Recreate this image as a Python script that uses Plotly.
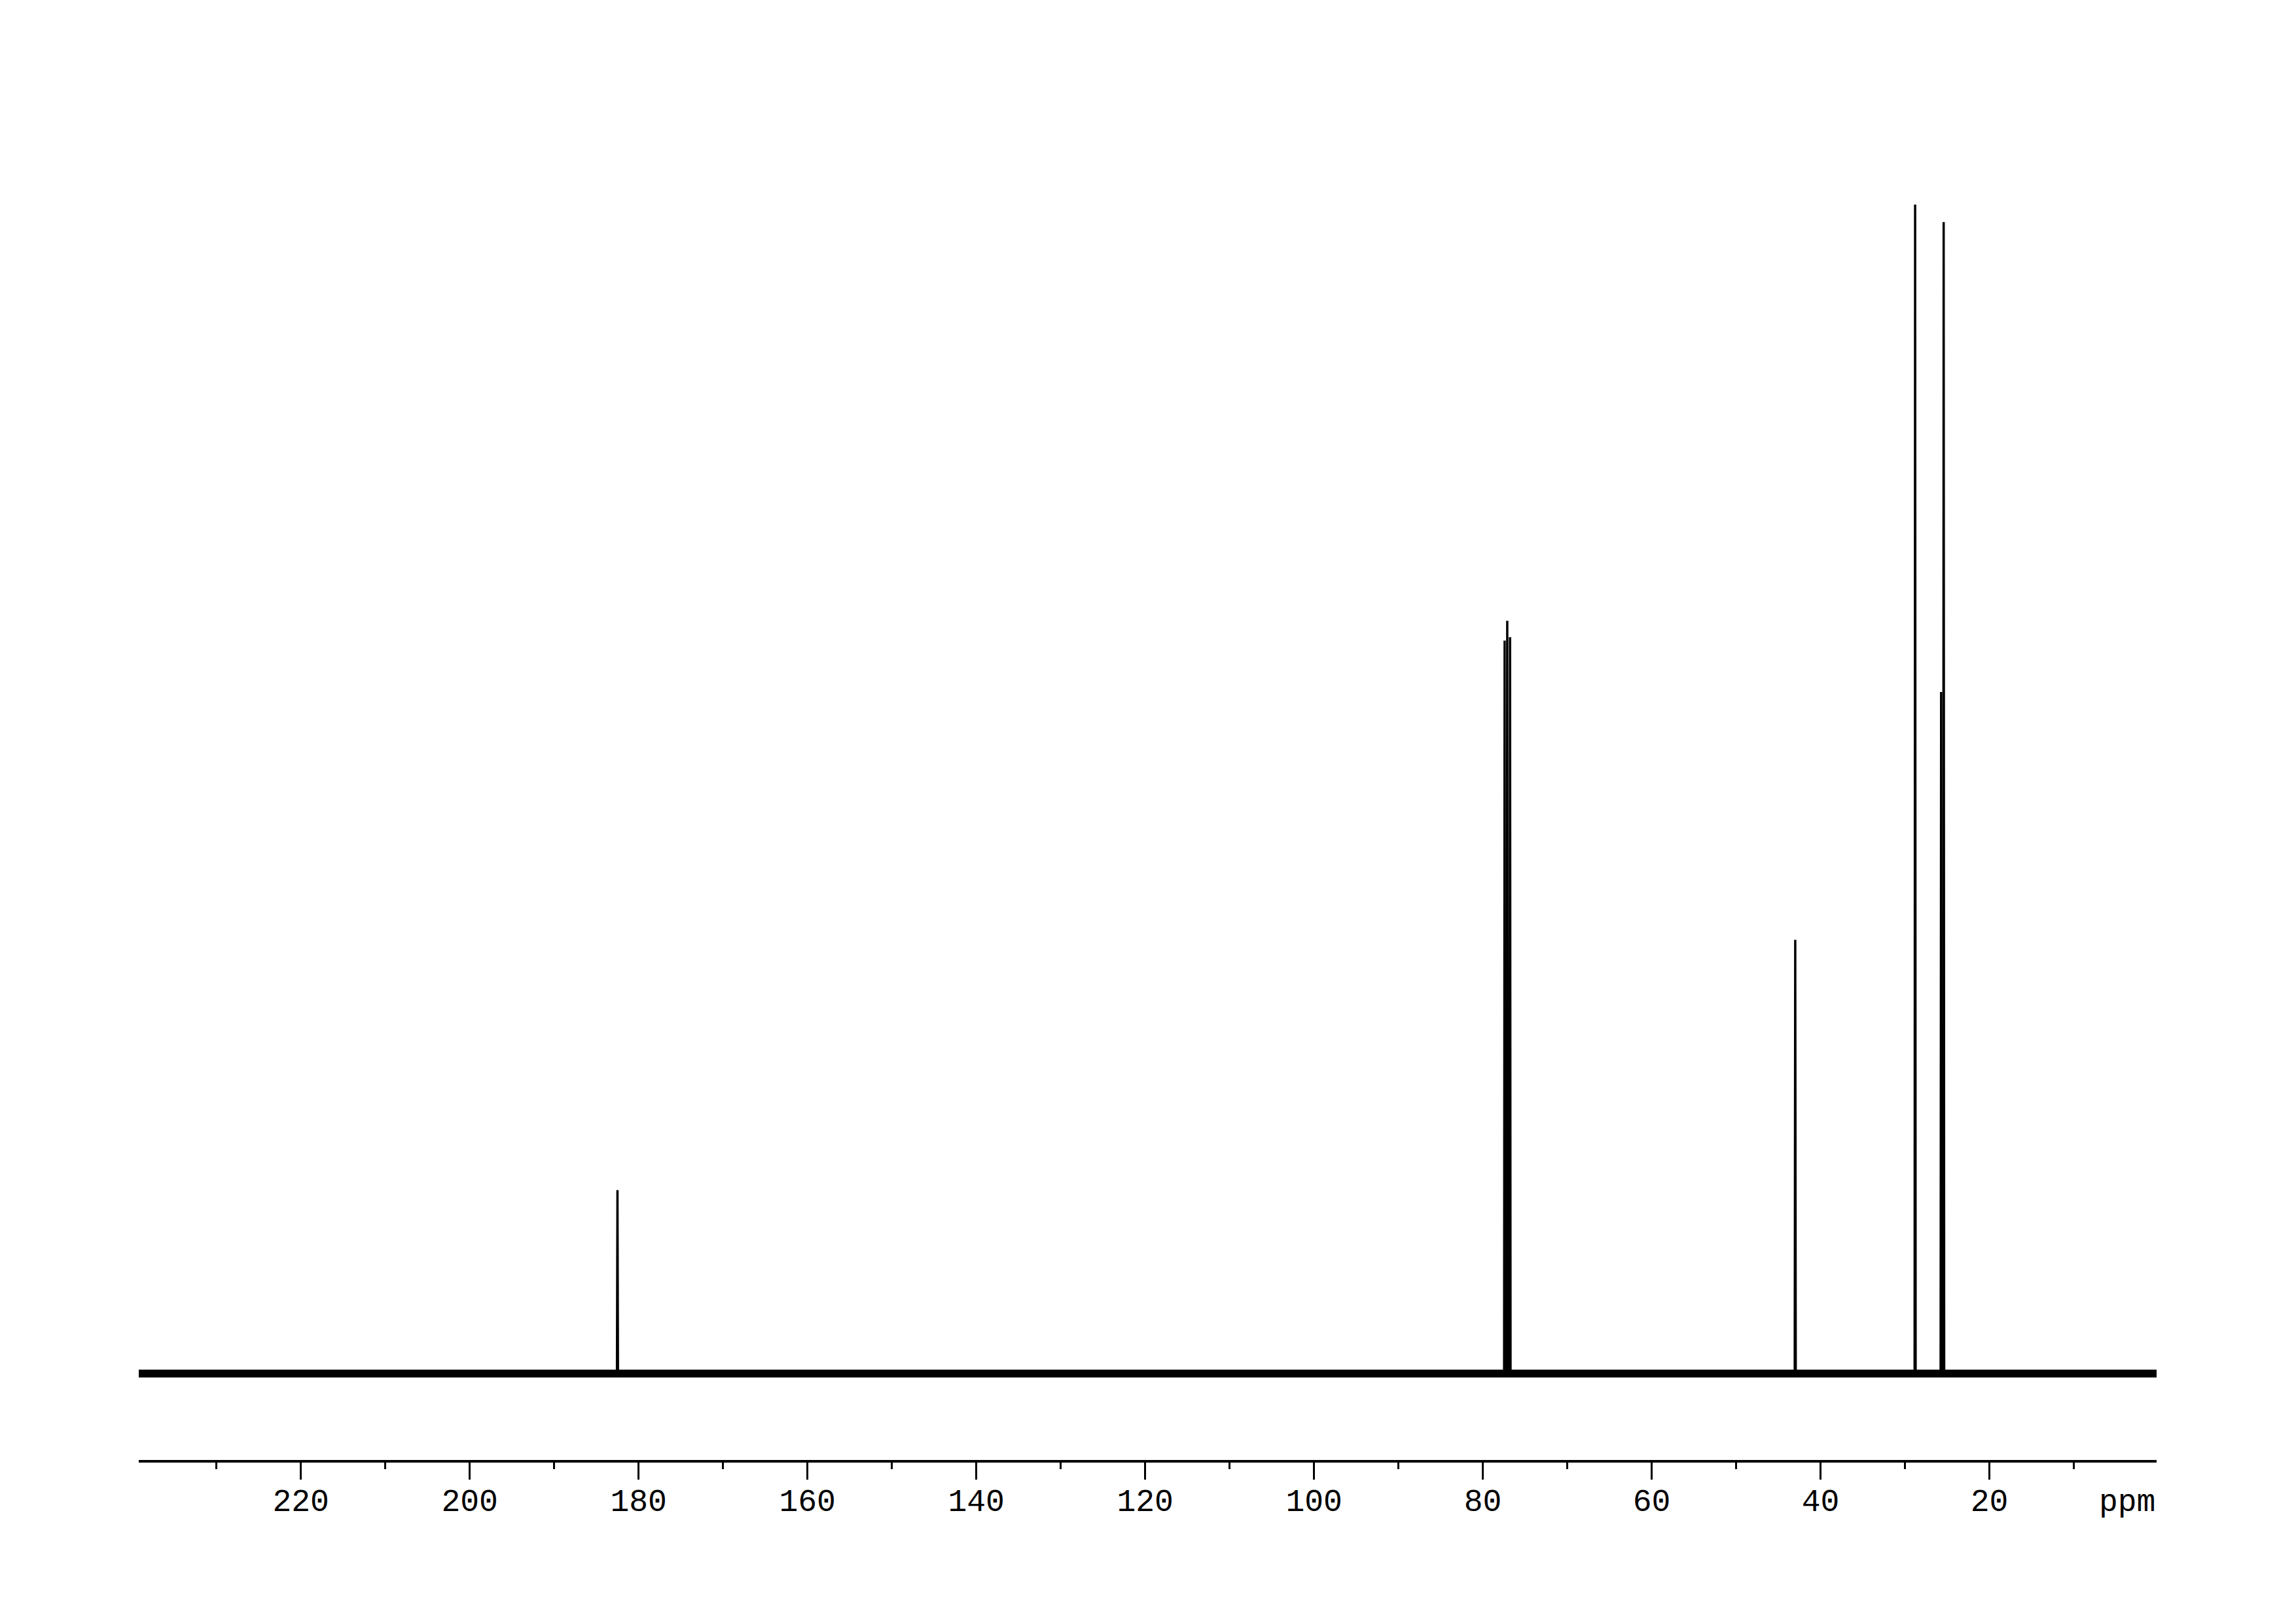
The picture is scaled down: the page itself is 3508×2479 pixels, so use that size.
import plotly.graph_objects as go

# 13C NMR peaks (ppm) and relative intensities (tallest = 100)
peak_ppm = [182.5, 77.42, 77.11, 76.78, 43.0, 28.8, 25.72, 25.42]
peak_int = [15.7, 62.7, 64.4, 63.0, 37.1, 100.0, 58.3, 98.5]

x_range = [239.2, 0.2]
major_ticks = [220, 200, 180, 160, 140, 120, 100, 80, 60, 40, 20]
tick_labels = [str(v) for v in major_ticks]
unit_label = "ppm"

half_width = 0.06  # ppm, half width of each drawn line

px, py = [], []
for p, h in zip(peak_ppm, peak_int):
    px += [p + half_width, p, p - half_width, None]
    py += [0, h, 0, None]

fig = go.Figure()
# baseline (noise band drawn as a thick line)
fig.add_trace(go.Scatter(x=x_range, y=[0, 0], mode="lines",
                         line=dict(color="black", width=12), hoverinfo="skip"))
fig.add_trace(go.Scatter(x=px, y=py, mode="lines",
                         line=dict(color="black", width=3.5), hoverinfo="skip"))

fig.update_layout(
    width=3492, height=2463,
    margin=dict(l=204, r=205, t=92, b=241),
    paper_bgcolor="white", plot_bgcolor="white",
    showlegend=False,
    xaxis=dict(
        range=x_range, showgrid=False, zeroline=False,
        showline=True, linecolor="black", linewidth=3.5,
        ticks="outside", ticklen=26, tickwidth=2.5, tickcolor="black",
        tickvals=major_ticks, ticktext=tick_labels,
        minor=dict(tickvals=[230, 210, 190, 170, 150, 130, 110, 90, 70, 50, 30, 10],
                   ticks="outside", ticklen=10, tickwidth=2.5, tickcolor="black"),
        tickfont=dict(family="Liberation Mono", size=48, color="black"),
        ticklabelstandoff=-9,
    ),
    yaxis=dict(range=[-7.39, 111.9], visible=False),
    annotations=[dict(text=unit_label, xref="paper", yref="paper",
                      x=1.0, y=-0.0169, xanchor="right", yanchor="top",
                      showarrow=False,
                      font=dict(family="Liberation Mono", size=48, color="black"))],
)

fig.write_html("out.html")
